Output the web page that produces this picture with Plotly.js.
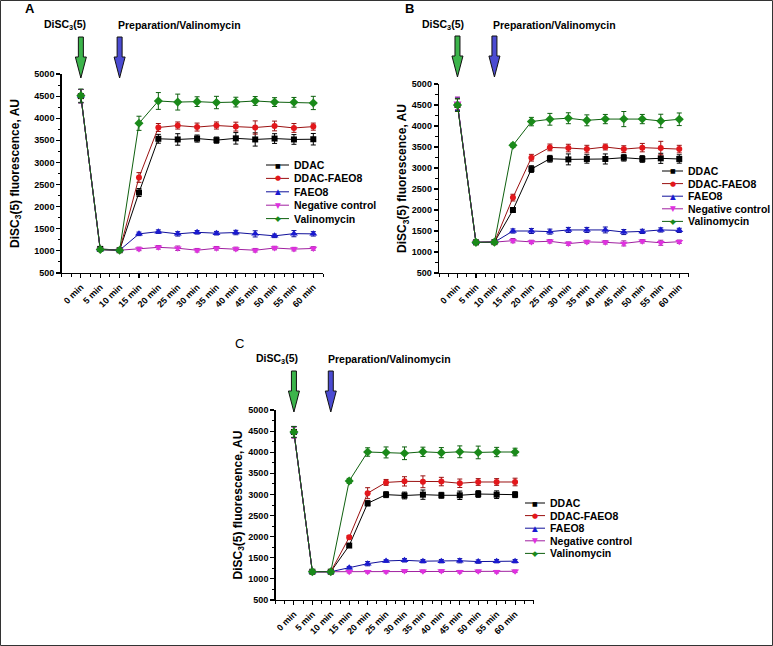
<!DOCTYPE html>
<html>
<head>
<meta charset="utf-8">
<script src="https://cdn.plot.ly/plotly-3.0.1.min.js"></script>
<style>html,body{margin:0;padding:0;background:#fff}</style>
</head>
<body>
<div id="chart" style="width:773px;height:646px"></div>
<script>
// Sampling times (categories on the x axis)
const timeLabels = ['0 min','5 min','10 min','15 min','20 min','25 min','30 min','35 min','40 min','45 min','50 min','55 min','60 min'];
const seriesNames = ['DDAC', 'DDAC-FAEO8', 'FAEO8', 'Negative control', 'Valinomycin'];

// Panel A: DiSC3(5) fluorescence, AU (mean and error)
const ddacA     = [4500, 1045, 1015, 2320, 3535, 3520, 3540, 3505, 3545, 3520, 3540, 3520, 3525];
const ddacErrA  = [150, 40, 30, 90, 100, 130, 80, 70, 130, 150, 110, 110, 130];
const mixA      = [4500, 1030, 1015, 2660, 3790, 3835, 3800, 3835, 3810, 3790, 3825, 3780, 3810];
const mixErrA   = [150, 40, 30, 110, 90, 80, 90, 80, 100, 150, 110, 100, 80];
const faeoA     = [4500, 1030, 1015, 1385, 1435, 1385, 1420, 1400, 1415, 1385, 1340, 1390, 1385];
const faeoErrA  = [150, 40, 30, 40, 40, 50, 40, 40, 50, 70, 40, 70, 50];
const negA      = [4500, 1030, 1015, 1045, 1080, 1060, 1015, 1060, 1045, 1015, 1065, 1040, 1055];
const negErrA   = [150, 40, 30, 40, 40, 50, 40, 40, 40, 40, 40, 40, 40];
const valA      = [4510, 1030, 1015, 3885, 4390, 4365, 4375, 4355, 4365, 4390, 4365, 4360, 4345];
const valErrA   = [150, 40, 30, 160, 190, 180, 110, 140, 110, 100, 100, 110, 150];

// Panel B
const ddacB     = [4500, 1230, 1235, 2000, 2975, 3220, 3205, 3215, 3215, 3245, 3215, 3230, 3215];
const ddacErrB  = [150, 40, 30, 40, 80, 80, 130, 100, 120, 80, 80, 120, 100];
const mixB      = [4500, 1230, 1235, 2295, 3245, 3490, 3475, 3450, 3500, 3450, 3485, 3475, 3450];
const mixErrB   = [150, 40, 30, 80, 80, 80, 90, 90, 70, 80, 100, 160, 90];
const faeoB     = [4520, 1230, 1235, 1500, 1500, 1485, 1525, 1525, 1525, 1475, 1490, 1525, 1515];
const faeoErrB  = [150, 40, 30, 50, 60, 60, 60, 60, 70, 60, 50, 50, 50];
const negB      = [4540, 1230, 1235, 1270, 1240, 1255, 1200, 1240, 1230, 1205, 1255, 1220, 1245];
const negErrB   = [150, 40, 30, 50, 40, 40, 40, 40, 40, 60, 40, 60, 40];
const valB      = [4500, 1230, 1235, 3540, 4105, 4160, 4185, 4135, 4165, 4165, 4165, 4120, 4160];
const valErrB   = [150, 40, 30, 50, 100, 140, 130, 130, 110, 180, 110, 160, 150];

// Panel C
const ddacC     = [4480, 1170, 1170, 1790, 2790, 2995, 2975, 2995, 2980, 2980, 3010, 2995, 2995];
const ddacErrC  = [130, 40, 30, 40, 60, 70, 80, 110, 70, 100, 80, 90, 70];
const mixC      = [4480, 1170, 1170, 1985, 3030, 3285, 3310, 3300, 3305, 3265, 3295, 3295, 3295];
const mixErrC   = [130, 40, 30, 40, 130, 70, 110, 140, 100, 100, 80, 80, 90];
const faeoC     = [4480, 1170, 1170, 1265, 1360, 1425, 1440, 1420, 1420, 1430, 1410, 1420, 1420];
const faeoErrC  = [130, 40, 30, 30, 50, 30, 40, 40, 40, 50, 40, 40, 40];
const negC      = [4460, 1170, 1170, 1170, 1170, 1170, 1185, 1180, 1185, 1170, 1180, 1170, 1180];
const negErrC   = [130, 40, 30, 30, 30, 30, 30, 30, 30, 30, 30, 30, 30];
const valC      = [4480, 1170, 1170, 3320, 4005, 3995, 3975, 4010, 3990, 4010, 3995, 4005, 4005];
const valErrC   = [130, 40, 30, 60, 100, 130, 150, 110, 120, 140, 150, 110, 90];

// Event markers
const eventLabels = ['DiSC<sub>3</sub>(5)', 'Preparation/Valinomycin'];
const eventTimes = ['0 min', '10 min'];

// ---- styling ----
const W = 773, H = 646;
const px = v => v / W;
const py = v => 1 - v / H;
const FONT = 'Arial, "Liberation Sans", Helvetica, sans-serif';

const styles = [
  {symbol: 'square',        glyph: '\u25A0', gsize: 6,   size: 6, color: '#000000', line: '#000000'},
  {symbol: 'circle',        glyph: '\u25CF', gsize: 7,   size: 6, color: '#e3171b', line: '#9a1010'},
  {symbol: 'triangle-up',   glyph: '\u25B2', gsize: 7.5, size: 7, color: '#1a1ad0', line: '#10109a'},
  {symbol: 'triangle-down', glyph: '\u25BC', gsize: 7.5, size: 7, color: '#e030e0', line: '#a020a0'},
  {symbol: 'diamond',       glyph: '\u25C6', gsize: 7.5, size: 7, color: '#1a8a1a', line: '#0f600f'}
];
const arrowColors = ['#3cb44b', '#4b4bd2'];

const timeIndex = timeLabels.map((_, i) => i);

const panels = [
  {id: '',  letter: 'A', bold: true, standoff: 12,
   values: [ddacA, mixA, faeoA, negA, valA], errors: [ddacErrA, mixErrA, faeoErrA, negErrA, valErrA],
   xDom: [61.5, 323], yDom: [74, 273], xMax: 12.5,
   letterPos: [30, 8], textY: 25, dyeX: 65, prepX: 179, tipY: 78,
   key: {x0: 266, x1: 289, tx: 292, y0: 165, gap: 13.4}},
  {id: '2', letter: 'B', bold: true, standoff: 2,
   values: [ddacB, mixB, faeoB, negB, valB], errors: [ddacErrB, mixErrB, faeoErrB, negErrB, valErrB],
   xDom: [439, 688.5], yDom: [84, 273], xMax: 12.5,
   letterPos: [409, 8], textY: 25, dyeX: 443, prepX: 554, tipY: 77,
   key: {x0: 662, x1: 683, tx: 686, y0: 171, gap: 12.6}},
  {id: '3', letter: 'C', bold: false, standoff: 3,
   values: [ddacC, mixC, faeoC, negC, valC], errors: [ddacErrC, mixErrC, faeoErrC, negErrC, valErrC],
   xDom: [275.5, 533.5], yDom: [410, 600], xMax: 13,
   letterPos: [239, 343], textY: 359, dyeX: 276.5, prepX: 390, tipY: 412,
   key: {x0: 525, x1: 545, tx: 548, y0: 503, gap: 12.6}}
];

const data = [];
const layout = {
  width: W, height: H,
  margin: {l: 0, r: 0, t: 0, b: 0},
  paper_bgcolor: '#ffffff', plot_bgcolor: 'rgba(0,0,0,0)',
  font: {family: FONT, color: '#000'},
  showlegend: false,
  shapes: [], annotations: []
};

// arrow outline in pixels, tip at the origin, pointing down
const arrowPath = 'M0,0 L-5.5,21 L-2.5,21 L-2.5,41 L2.5,41 L2.5,21 L5.5,21 Z';

panels.forEach(p => {
  const xa = 'x' + p.id, ya = 'y' + p.id;
  seriesNames.forEach((name, i) => {
    const s = styles[i];
    data.push({
      type: 'scatter', mode: 'lines+markers', name: name,
      x: timeIndex, y: p.values[i],
      xaxis: xa, yaxis: ya,
      line: {color: s.line, width: 1},
      marker: {symbol: s.symbol, size: s.size, color: s.color, line: {width: 0}},
      error_y: {type: 'data', array: p.errors[i], visible: true, color: s.line, thickness: 1, width: 2.5},
      cliponaxis: false
    });

    // key row: line, symbol, label
    const rowY = py(p.key.y0 + i * p.key.gap);
    layout.shapes.push({type: 'line', xref: 'paper', yref: 'paper',
      x0: px(p.key.x0), x1: px(p.key.x1), y0: rowY, y1: rowY,
      line: {color: s.line, width: 1}});
    layout.annotations.push(
      {text: s.glyph, xref: 'paper', yref: 'paper', x: px((p.key.x0 + p.key.x1) / 2), y: rowY,
       showarrow: false, xanchor: 'center', yanchor: 'middle',
       font: {family: '"DejaVu Sans", sans-serif', size: s.gsize, color: s.color}},
      {text: name, xref: 'paper', yref: 'paper', x: px(p.key.tx), y: rowY,
       showarrow: false, xanchor: 'left', yanchor: 'middle',
       font: {family: FONT, size: 10.5, weight: 'bold', color: '#000'}}
    );
  });

  const axisCommon = {
    showline: true, linecolor: '#000', linewidth: 1.3, mirror: false,
    showgrid: false, zeroline: false, ticks: 'outside', tickcolor: '#000',
    tickwidth: 1.1, ticklen: 4,
    tickfont: {family: FONT, size: 9, weight: 'bold', color: '#000'}
  };
  layout['xaxis' + p.id] = Object.assign({}, axisCommon, {
    domain: [px(p.xDom[0]), px(p.xDom[1])],
    anchor: ya, range: [-1, p.xMax],
    tickmode: 'array', tickvals: timeIndex, ticktext: timeLabels,
    tickangle: -45,
    minor: {tick0: -1, dtick: 0.5, ticks: 'outside', ticklen: 3, tickcolor: '#000', tickwidth: 1}
  });
  layout['yaxis' + p.id] = Object.assign({}, axisCommon, {
    domain: [py(p.yDom[1]), py(p.yDom[0])],
    anchor: xa, range: [500, 5000], dtick: 500, tick0: 0,
    minor: {dtick: 250, ticks: 'outside', ticklen: 2.5, tickcolor: '#000', tickwidth: 1},
    title: {text: 'DiSC<sub>3</sub>(5) fluorescence, AU', standoff: p.standoff,
            font: {family: FONT, size: 12, weight: 'bold', color: '#000'}}
  });

  // event arrows above the plot
  eventTimes.forEach((t, k) => {
    layout.shapes.push({
      type: 'path', path: arrowPath,
      xref: xa, xsizemode: 'pixel', xanchor: timeLabels.indexOf(t),
      yref: 'paper', ysizemode: 'pixel', yanchor: py(p.tipY),
      fillcolor: arrowColors[k], line: {color: '#111', width: 1}, layer: 'above'
    });
  });

  layout.annotations.push(
    {text: p.letter, xref: 'paper', yref: 'paper', x: px(p.letterPos[0]), y: py(p.letterPos[1]),
     showarrow: false, xanchor: 'center', yanchor: 'middle',
     font: {family: FONT, size: 13, weight: p.bold ? 'bold' : 'normal', color: '#000'}},
    {text: eventLabels[0], xref: 'paper', yref: 'paper', x: px(p.dyeX), y: py(p.textY),
     showarrow: false, xanchor: 'center', yanchor: 'middle',
     font: {family: FONT, size: 10.5, weight: 'bold', color: '#000'}},
    {text: eventLabels[1], xref: 'paper', yref: 'paper', x: px(p.prepX), y: py(p.textY),
     showarrow: false, xanchor: 'center', yanchor: 'middle',
     font: {family: FONT, size: 10.5, weight: 'bold', color: '#000'}}
  );
});

// frame around the figure
layout.shapes.push({type: 'rect', xref: 'paper', yref: 'paper',
  x0: px(0.5), x1: px(772.5), y0: py(645.5), y1: py(0.5),
  line: {color: '#333', width: 1}, fillcolor: 'rgba(0,0,0,0)', layer: 'above'});

Plotly.newPlot('chart', data, layout, {displayModeBar: false, staticPlot: true});
</script>
</body>
</html>
